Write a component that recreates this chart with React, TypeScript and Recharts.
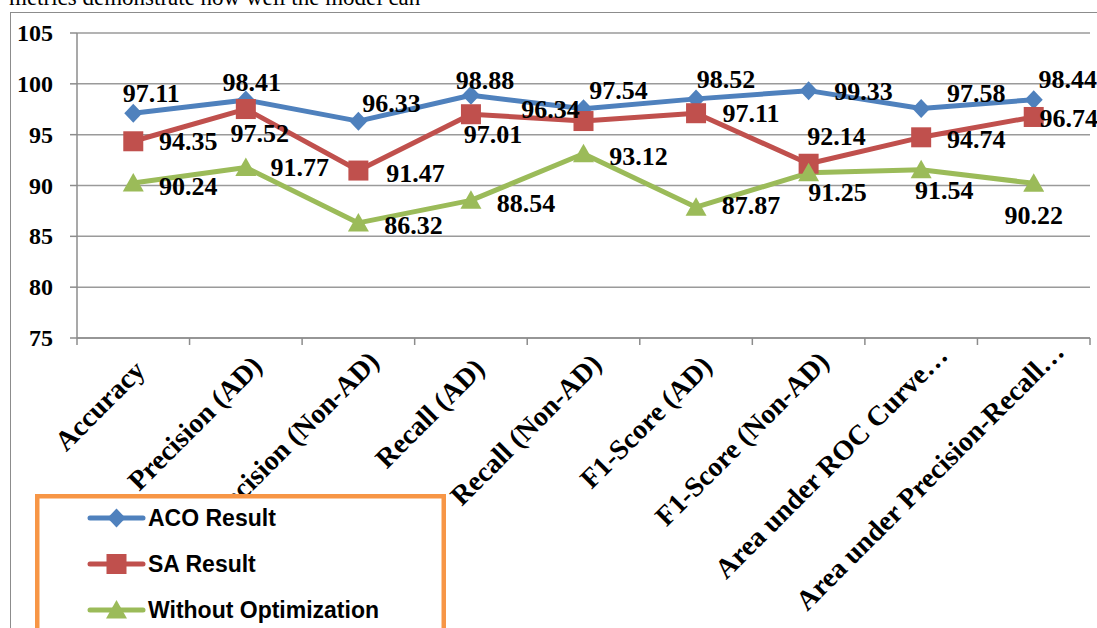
import React from 'react';
import { ComposedChart, Line, XAxis, YAxis, CartesianGrid, LabelList, Legend } from 'recharts';

// Evaluation metrics compared across three configurations
const categories = [
  'Accuracy',
  'Precision (AD)',
  'Precision (Non-AD)',
  'Recall (AD)',
  'Recall (Non-AD)',
  'F1-Score (AD)',
  'F1-Score (Non-AD)',
  'Area under ROC Curve…',
  'Area under Precision-Recall…',
];
const acoResult = [97.11, 98.41, 96.33, 98.88, 97.54, 98.52, 99.33, 97.58, 98.44];
const saResult = [94.35, 97.52, 91.47, 97.01, 96.34, 97.11, 92.14, 94.74, 96.74];
const withoutOptimization = [90.24, 91.77, 86.32, 88.54, 93.12, 87.87, 91.25, 91.54, 90.22];
const yTicks = [75, 80, 85, 90, 95, 100, 105];

// Per-point label placement (offset of the label centre from its marker, px)
const acoLabelNudge: [number, number][] = [[18, -20], [6, -17], [33, -18], [14, -15], [35, -18], [30, -19], [55, 1], [55, -15], [34, -20]];
const saLabelNudge: [number, number][] = [[55, 0], [14, 24], [57, 3], [22, 20], [-33, -12], [55, 0], [28, -27], [55, 2], [35, 2]];
const withoutLabelNudge: [number, number][] = [[55, 3], [54, 0], [55, 3], [55, 3], [55, 3], [55, -2], [29, 20], [23, 21], [0, 32]];

const data = categories.map((name, i) => ({
  name,
  aco: acoResult[i],
  sa: saResult[i],
  without: withoutOptimization[i],
}));

const SERIF = "'Liberation Serif', 'Times New Roman', serif";
const SANS = "'Liberation Sans', Arial, sans-serif";
const AXIS = '#8c8c8c';
const GRID = '#9a9a9a';
const BLUE = '#4F81BD';
const RED = '#C0504D';
const GREEN = '#9BBB59';
const CAT_FONT = 28;

type Shape = 'diamond' | 'square' | 'triangle';

// Text width measurement for positioning the rotated category labels
let measureCtx: CanvasRenderingContext2D | null = null;
function textWidth(text: string, font: string, fallbackSize: number): number {
  try {
    if (!measureCtx) {
      const c = document.createElement('canvas');
      measureCtx = c.getContext('2d');
    }
    if (measureCtx) {
      measureCtx.font = font;
      return measureCtx.measureText(text).width;
    }
  } catch (e) {
    /* fall through */
  }
  return text.length * fallbackSize * 0.5;
}

function Marker({ shape, cx, cy, color }: { shape: Shape; cx: number; cy: number; color: string }) {
  if (shape === 'diamond') {
    return <polygon points={`${cx},${cy - 9.5} ${cx + 9},${cy} ${cx},${cy + 9.5} ${cx - 9},${cy}`} fill={color} />;
  }
  if (shape === 'square') {
    return <rect x={cx - 10} y={cy - 10} width={20} height={20} fill={color} />;
  }
  return <polygon points={`${cx},${cy - 10} ${cx + 10.5},${cy + 8.5} ${cx - 10.5},${cy + 8.5}`} fill={color} />;
}

const makeDot = (shape: Shape, color: string) => (props: any) => {
  const { cx, cy, index } = props;
  if (cx == null || cy == null) return <g key={`d-${shape}-${index}`} />;
  return (
    <g key={`d-${shape}-${index}`}>
      <Marker shape={shape} cx={cx} cy={cy} color={color} />
    </g>
  );
};

const makeLabel = (nudge: [number, number][]) => (props: any) => {
  const { x, y, value, index } = props;
  const [dx, dy] = nudge[index] ?? [0, 0];
  return (
    <text
      key={`l-${index}`}
      x={Number(x) + dx}
      y={Number(y) + dy}
      textAnchor="middle"
      dominantBaseline="central"
      fontFamily={SERIF}
      fontWeight="bold"
      fontSize={26}
      fill="#000"
    >
      {value}
    </text>
  );
};

const YTick = (props: any) => {
  const { x, y, payload } = props;
  return (
    <text x={x} y={y} textAnchor="end" dominantBaseline="central" fontFamily={SERIF} fontWeight="bold" fontSize={24} fill="#000">
      {payload.value}
    </text>
  );
};

// Category tick: boundary tick marks (Excel style) plus a rotated label
const XTick = (props: any) => {
  const { x, y, payload, index } = props;
  const half = payload && payload.offset != null ? payload.offset : 0;
  const last = index === categories.length - 1;
  const label = String(payload.value);
  const w = textWidth(label, `bold ${CAT_FONT}px ${SERIF}`, CAT_FONT);
  const slide = 0.105 * w * Math.SQRT1_2;
  const px = x + 4.8 + slide;
  const py = y + 42.6 - slide;
  return (
    <g>
      <line x1={x - half} x2={x - half} y1={y} y2={y + 7} stroke={AXIS} strokeWidth={1.5} />
      {last && <line x1={x + half} x2={x + half} y1={y} y2={y + 7} stroke={AXIS} strokeWidth={1.5} />}
      <text
        transform={`translate(${px},${py}) rotate(-45)`}
        textAnchor="end"
        fontFamily={SERIF}
        fontWeight="bold"
        fontSize={CAT_FONT}
        fill="#000"
      >
        {label}
      </text>
    </g>
  );
};

const shapeFor: Record<string, Shape> = { aco: 'diamond', sa: 'square', without: 'triangle' };

const LegendBox = (props: any) => {
  const payload = (props.payload || []) as any[];
  return (
    <svg width={411} height={160} style={{ display: 'block' }}>
      <rect x={2.25} y={2.25} width={406.5} height={170} fill="#fff" stroke="#F79646" strokeWidth={4.5} />
      {payload.map((entry, i) => {
        const cy = 24 + i * 46;
        const shape = shapeFor[entry.dataKey as string] || 'diamond';
        return (
          <g key={String(entry.dataKey)}>
            <line x1={55} x2={108} y1={cy} y2={cy} stroke={entry.color} strokeWidth={5} strokeLinecap="round" />
            <Marker shape={shape} cx={81.5} cy={cy} color={entry.color} />
            <text x={113} y={cy} dominantBaseline="central" fontFamily={SANS} fontWeight="bold" fontSize={23} fill="#000">
              {entry.value}
            </text>
          </g>
        );
      })}
    </svg>
  );
};

export default function App() {
  return (
    <div style={{ position: 'absolute', left: 0, top: 0, width: 1097, height: 628, overflow: 'hidden', background: '#fff' }}>
      <div
        style={{
          position: 'absolute',
          left: 9,
          top: -12,
          fontFamily: SERIF,
          fontSize: 23,
          lineHeight: '20px',
          whiteSpace: 'nowrap',
          color: '#000',
        }}
      >
        metrics demonstrate how well the model can
      </div>
      <div
        style={{
          position: 'absolute',
          left: 10,
          top: 12,
          width: 1200,
          height: 700,
          borderLeft: `1.5px solid ${AXIS}`,
          borderTop: `1.5px solid ${AXIS}`,
        }}
      />
      <div style={{ position: 'absolute', left: 0, top: 0 }}>
        <ComposedChart width={1097} height={628} data={data} margin={{ top: 33, right: 7, left: 17, bottom: 40 }}>
          <CartesianGrid horizontal vertical={false} stroke={GRID} strokeWidth={1.5} />
          <XAxis
            dataKey="name"
            type="category"
            scale="band"
            interval={0}
            height={250}
            tickSize={0}
            tickMargin={0}
            tickLine={false}
            axisLine={{ stroke: AXIS, strokeWidth: 1.5 }}
            tick={<XTick />}
          />
          <YAxis
            type="number"
            domain={[75, 105]}
            ticks={yTicks}
            width={60}
            tickSize={7}
            tickMargin={17}
            axisLine={{ stroke: AXIS, strokeWidth: 1.5 }}
            tickLine={{ stroke: AXIS, strokeWidth: 1.5 }}
            tick={<YTick />}
            allowDataOverflow
          />
          <Legend
            layout="vertical"
            align="center"
            verticalAlign="middle"
            wrapperStyle={{ left: 35, top: 494, width: 411, height: 160 }}
            content={<LegendBox />}
          />
          <Line
            dataKey="aco"
            name="ACO Result"
            stroke={BLUE}
            strokeWidth={5}
            strokeLinejoin="round"
            dot={makeDot('diamond', BLUE)}
            activeDot={false}
            isAnimationActive={false}
          >
            <LabelList dataKey="aco" content={makeLabel(acoLabelNudge)} />
          </Line>
          <Line
            dataKey="sa"
            name="SA Result"
            stroke={RED}
            strokeWidth={5}
            strokeLinejoin="round"
            dot={makeDot('square', RED)}
            activeDot={false}
            isAnimationActive={false}
          >
            <LabelList dataKey="sa" content={makeLabel(saLabelNudge)} />
          </Line>
          <Line
            dataKey="without"
            name="Without Optimization"
            stroke={GREEN}
            strokeWidth={5}
            strokeLinejoin="round"
            dot={makeDot('triangle', GREEN)}
            activeDot={false}
            isAnimationActive={false}
          >
            <LabelList dataKey="without" content={makeLabel(withoutLabelNudge)} />
          </Line>
        </ComposedChart>
      </div>
    </div>
  );
}
